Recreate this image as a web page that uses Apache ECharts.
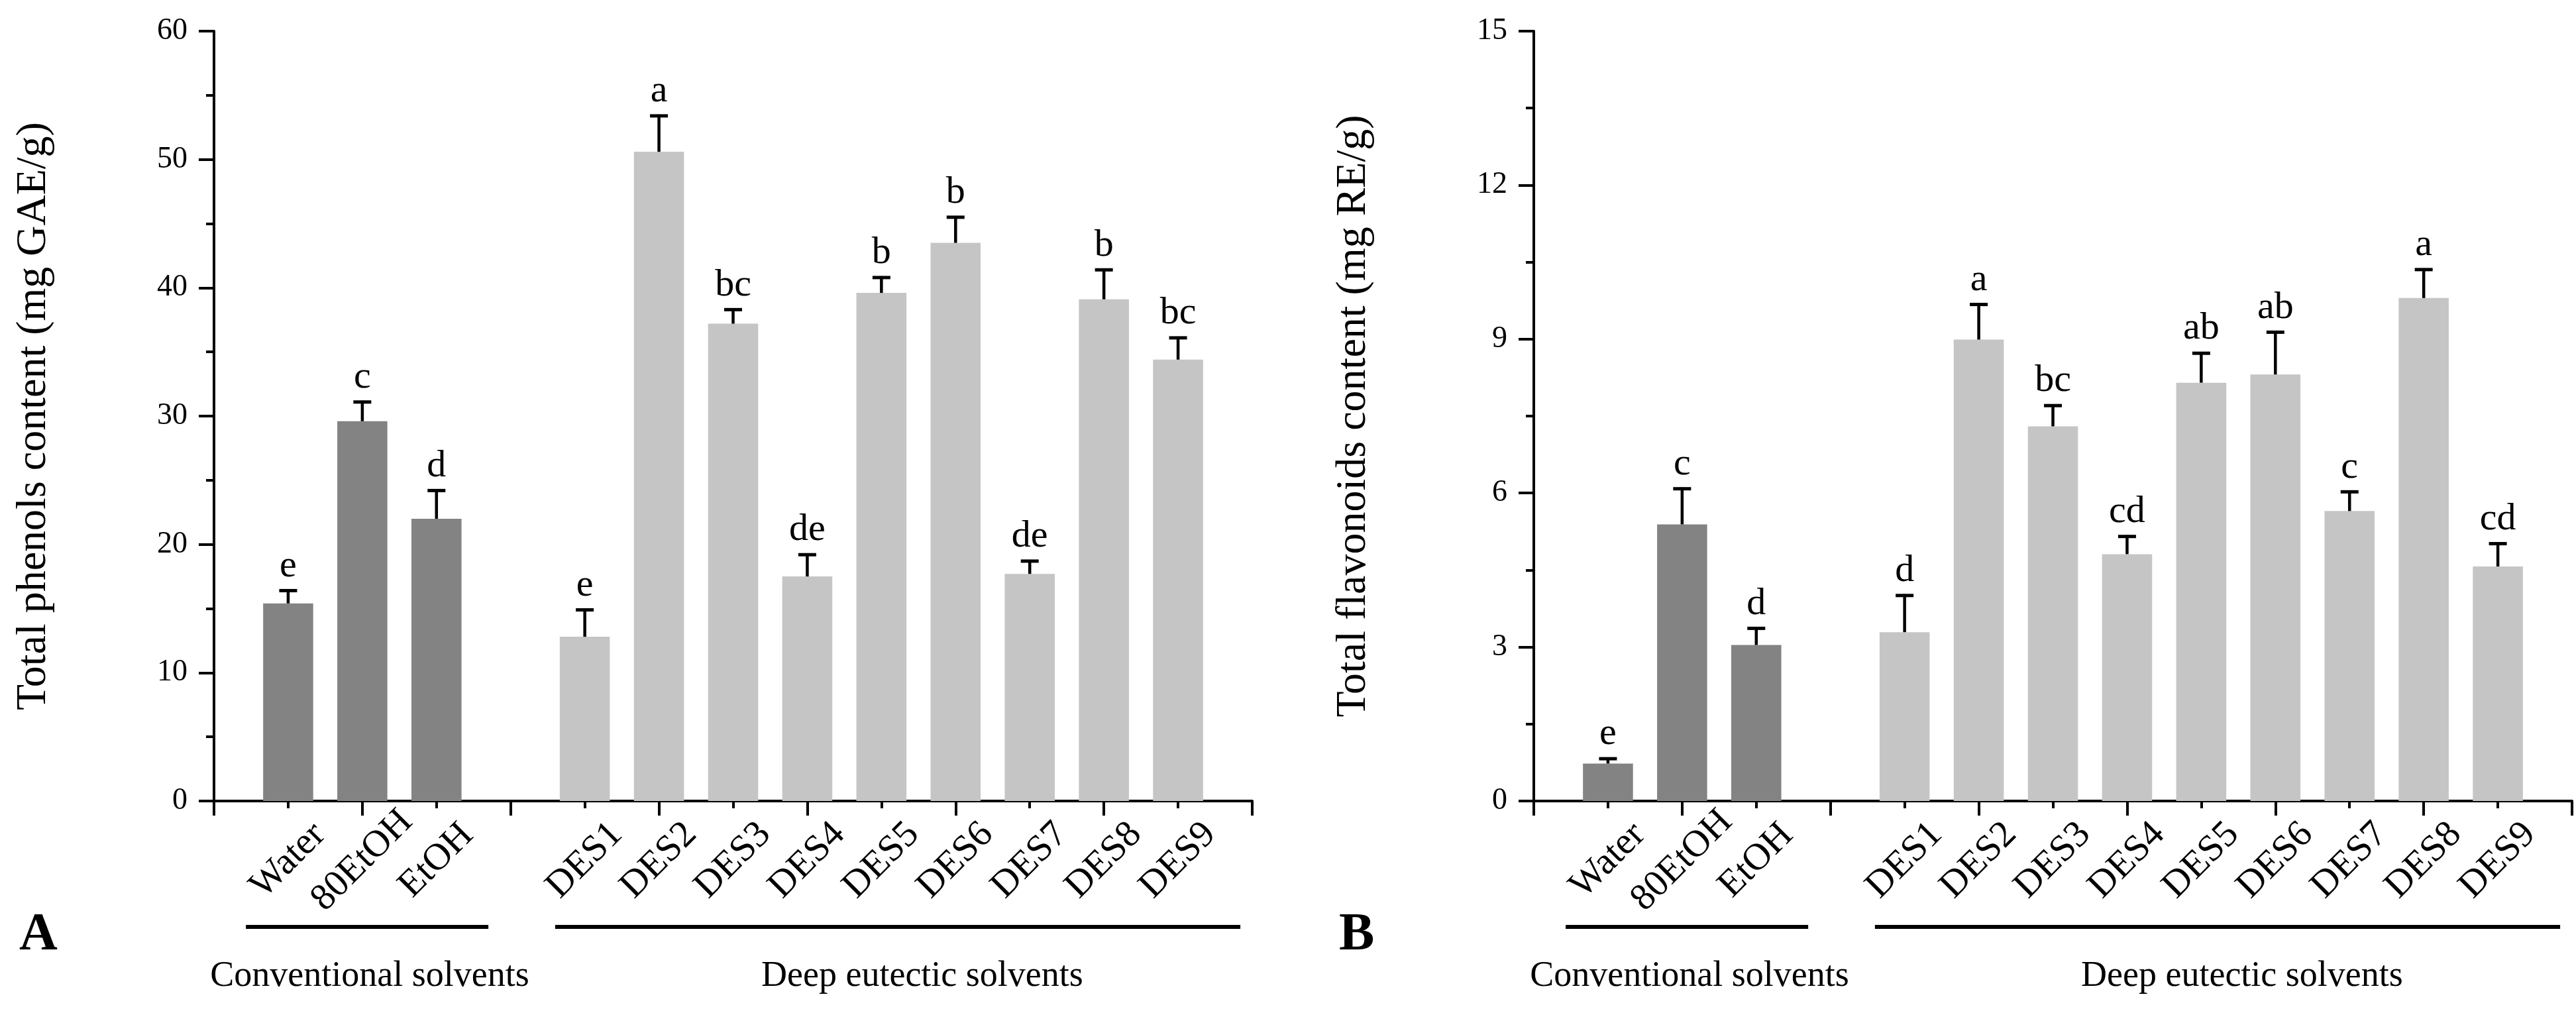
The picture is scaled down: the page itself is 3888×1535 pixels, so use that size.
<!DOCTYPE html>
<html>
<head>
<meta charset="utf-8">
<script src="https://cdn.jsdelivr.net/npm/echarts@6/dist/echarts.min.js"></script>
<style>
  html, body { margin: 0; padding: 0; background: #fff; }
  #chart { width: 3888px; height: 1535px; }
</style>
</head>
<body>
<div id="chart"></div>
<script>
// solvents, in the order they stand on the x axis
var conventional = ['Water', '80EtOH', 'EtOH'];
var eutectic = ['DES1', 'DES2', 'DES3', 'DES4', 'DES5', 'DES6', 'DES7', 'DES8', 'DES9'];
var groupNames = ['Conventional solvents', 'Deep eutectic solvents'];

// panel A: total phenols (mg GAE/g)
var phenols = [15.4, 29.6, 22.0, 12.8, 50.6, 37.2, 17.5, 39.6, 43.5, 17.7, 39.1, 34.4];
var phenolsErr = [1.1, 1.6, 2.3, 2.2, 2.9, 1.2, 1.8, 1.3, 2.1, 1.1, 2.4, 1.8];
var phenolsLetters = ['e', 'c', 'd', 'e', 'a', 'bc', 'de', 'b', 'b', 'de', 'b', 'bc'];
var phenolsTicks = [0, 10, 20, 30, 40, 50, 60];

// panel B: total flavonoids (mg RE/g)
var flavonoids = [0.73, 5.39, 3.04, 3.29, 8.99, 7.30, 4.81, 8.15, 8.31, 5.65, 9.80, 4.57];
var flavonoidsErr = [0.12, 0.72, 0.35, 0.74, 0.71, 0.43, 0.37, 0.60, 0.85, 0.40, 0.58, 0.47];
var flavonoidsLetters = ['e', 'c', 'd', 'd', 'a', 'bc', 'cd', 'ab', 'ab', 'c', 'a', 'cd'];
var flavonoidsTicks = [0, 3, 6, 9, 12, 15];

var FONT = "'Liberation Serif', 'Times New Roman', serif";
var DARK = '#838383';
var LIGHT = '#c5c5c5';

// axis slots: empty slot at each end and between the two groups
var slots = [''].concat(conventional, [''], eutectic, ['']);
var solvents = conventional.concat(eutectic);
function slotOf(i) { return slots.indexOf(solvents[i]); }

// group underline extents and label centres, in slot units
var groupLines = [[0.43, 3.7, 2.1], [4.6, 13.84, 9.55]];

var chart = echarts.init(document.getElementById('chart'));

var grids = [], xAxes = [], yAxes = [], series = [], titles = [];

function addPanel(p, left, values, errs, letters, ticks, yName, tag) {
  grids.push({ left: left, top: 47, width: 1567, height: 1162 });

  var tickStyle = { color: '#000', width: 4 };
  xAxes.push({
    type: 'category', gridIndex: p, data: slots, boundaryGap: false, position: 'bottom',
    axisLine: { lineStyle: { color: '#000', width: 4 } },
    axisTick: { show: true, interval: 0, length: 11, lineStyle: tickStyle },
    axisLabel: {
      interval: 0, rotate: 45, align: 'center', verticalAlign: 'middle', margin: 90,
      fontFamily: FONT, fontSize: 57, color: '#000'
    },
    splitLine: { show: false }
  });
  xAxes.push({
    type: 'category', gridIndex: p, data: slots, boundaryGap: false, position: 'bottom',
    axisLine: { show: false },
    axisTick: { show: true, interval: function (i) { return i % 2 === 0; }, length: 22, lineStyle: tickStyle },
    axisLabel: { show: false },
    splitLine: { show: false }
  });
  xAxes.push({
    type: 'value', gridIndex: p, min: 0, max: slots.length - 1, show: false, position: 'bottom'
  });

  yAxes.push({
    type: 'value', gridIndex: p,
    min: ticks[0], max: ticks[ticks.length - 1], interval: ticks[1] - ticks[0],
    name: yName, nameLocation: 'middle', nameGap: 240,
    nameTextStyle: { fontFamily: FONT, fontSize: 64, color: '#000' },
    axisLine: { show: true, lineStyle: { color: '#000', width: 4 } },
    axisTick: { show: true, length: 23, lineStyle: tickStyle },
    minorTick: { show: true, splitNumber: 2, length: 12, lineStyle: tickStyle },
    axisLabel: { margin: 40, fontFamily: FONT, fontSize: 46, color: '#000' },
    splitLine: { show: false }
  });

  var barData = slots.map(function () { return null; });
  var errData = [];
  values.forEach(function (v, i) {
    var s = slotOf(i);
    barData[s] = { value: v, itemStyle: { color: i < conventional.length ? DARK : LIGHT } };
    errData.push([s, v, errs[i]]);
  });

  series.push({
    type: 'bar', xAxisIndex: 3 * p, yAxisIndex: p, data: barData,
    barWidth: '67.5%', silent: true
  });

  series.push({
    type: 'custom', xAxisIndex: 3 * p, yAxisIndex: p, data: errData, z: 5, silent: true,
    renderItem: function (params, api) {
      var x = api.value(0), v = api.value(1), e = api.value(2);
      var base = api.coord([x, v]);
      var top = api.coord([x, v + e]);
      return {
        type: 'group',
        children: [
          { type: 'line', shape: { x1: base[0], y1: base[1], x2: top[0], y2: top[1] },
            style: { stroke: '#000', lineWidth: 4.5 } },
          { type: 'line', shape: { x1: top[0] - 13.5, y1: top[1] + 2, x2: top[0] + 13.5, y2: top[1] + 2 },
            style: { stroke: '#000', lineWidth: 5 } },
          { type: 'text', x: top[0], y: top[1] - 6,
            style: { text: letters[params.dataIndex], align: 'center', verticalAlign: 'bottom',
                     fontFamily: FONT, fontSize: 58, fill: '#000' } }
        ]
      };
    }
  });

  series.push({
    type: 'custom', xAxisIndex: 3 * p + 2, yAxisIndex: p, data: groupLines, silent: true,
    renderItem: function (params, api) {
      var a = api.coord([api.value(0), 0]);
      var b = api.coord([api.value(1), 0]);
      var c = api.coord([api.value(2), 0]);
      return {
        type: 'group',
        children: [
          { type: 'line', shape: { x1: a[0], y1: a[1] + 190, x2: b[0], y2: b[1] + 190 },
            style: { stroke: '#000', lineWidth: 6 } },
          { type: 'text', x: c[0], y: c[1] + 265,
            style: { text: groupNames[params.dataIndex], align: 'center', verticalAlign: 'middle',
                     fontFamily: FONT, fontSize: 54, fill: '#000' } }
        ]
      };
    }
  });

  titles.push({
    text: tag, left: left - 299, top: 1367,
    textStyle: { fontFamily: FONT, fontSize: 80, fontWeight: 'bold', color: '#000' }
  });
}

addPanel(0, 323, phenols, phenolsErr, phenolsLetters, phenolsTicks, 'Total phenols content (mg GAE/g)', 'A');
addPanel(1, 2315, flavonoids, flavonoidsErr, flavonoidsLetters, flavonoidsTicks, 'Total flavonoids content (mg RE/g)', 'B');

chart.setOption({
  animation: false,
  backgroundColor: '#fff',
  title: titles,
  grid: grids,
  xAxis: xAxes,
  yAxis: yAxes,
  series: series
});
</script>
</body>
</html>
